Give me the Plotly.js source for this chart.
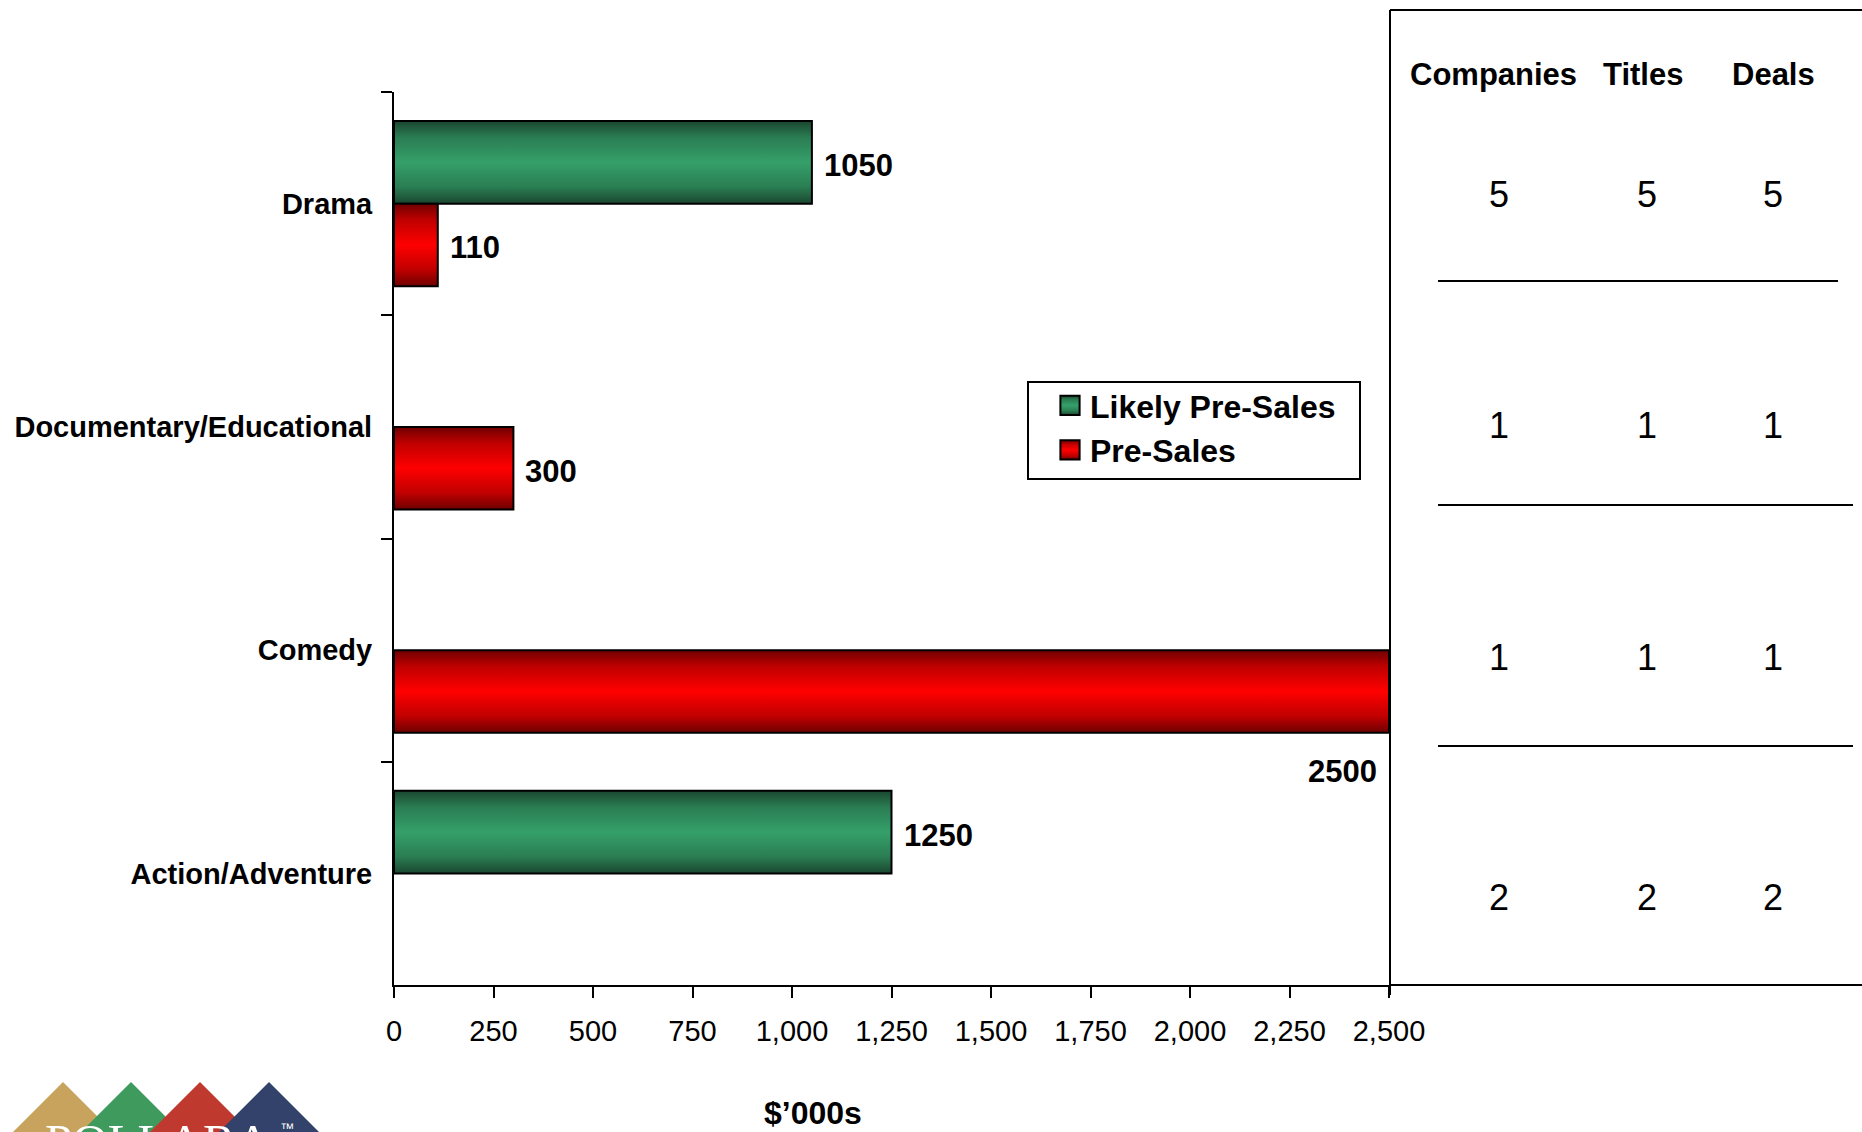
<!DOCTYPE html>
<html>
<head>
<meta charset="utf-8">
<script src="https://cdn.plot.ly/plotly-3.0.1.min.js"></script>
<style>
  html, body { margin: 0; padding: 0; background: #ffffff; }
  #chart { width: 1862px; height: 1132px; }
</style>
</head>
<body>
<div id="chart"></div>
<script>
// ---------------- data ----------------
const categories = ['Drama', 'Documentary/Educational', 'Comedy', 'Action/Adventure'];
const likelyPreSales = [1050, null, null, 1250];
const preSales = [110, 300, 2500, null];
const seriesNames = ['Likely Pre-Sales', 'Pre-Sales'];
const tableHeaders = ['Companies', 'Titles', 'Deals'];
const companies = [5, 1, 1, 2];
const titles = [5, 1, 1, 2];
const deals = [5, 1, 1, 2];
const xAxisTitle = '$\u2019000s';
const xMax = 2500;
const xStep = 250;

// ---------------- layout helpers ----------------
const W = 1862, H = 1132;
const L = 394, R = 1389, T = 92, B = 985;
const px = v => (v - L) / (R - L);
const py = v => (B - v) / (B - T);
const FONT = 'Liberation Sans, Arial, sans-serif';

const traces = [
  {
    type: 'bar', orientation: 'h', name: seriesNames[0],
    y: categories, x: likelyPreSales,
    marker: { color: '#339966', line: { color: '#000000', width: 2 } },
    hoverinfo: 'x+y'
  },
  {
    type: 'bar', orientation: 'h', name: seriesNames[1],
    y: categories, x: preSales,
    marker: { color: '#ff0000', line: { color: '#000000', width: 2 } },
    hoverinfo: 'x+y'
  }
];

const bargap = 0.26;
const slot = (1 - bargap) / 2;
const annotations = [];

// data labels
[likelyPreSales, preSales].forEach((vals, t) => {
  const off = (t === 0 ? -slot / 2 : slot / 2);
  vals.forEach((v, i) => {
    if (v === null) return;
    if (v >= xMax) {
      annotations.push({
        xref: 'x', yref: 'y', x: v, y: i + off + 0.36,
        text: String(v), showarrow: false, xanchor: 'right', yanchor: 'middle',
        xshift: -10, font: { family: FONT, size: 31, weight: 'bold', color: '#000' }
      });
    } else {
      annotations.push({
        xref: 'x', yref: 'y', x: v, y: i + off,
        text: String(v), showarrow: false, xanchor: 'left', yanchor: 'middle',
        xshift: 10, yshift: -3, font: { family: FONT, size: 31, weight: 'bold', color: '#000' }
      });
    }
  });
});

// axis title
annotations.push({
  xref: 'paper', yref: 'paper', x: px(813), y: py(1113),
  text: '<b>' + xAxisTitle + '</b>', showarrow: false, xanchor: 'center', yanchor: 'middle',
  font: { family: FONT, size: 32, color: '#000' }
});

// table
const headerX = [1493, 1643, 1773];
const colX = [1499, 1647, 1773];
const rowY = [194, 425, 657, 897];
tableHeaders.forEach((h, j) => {
  annotations.push({
    xref: 'paper', yref: 'paper', x: px(headerX[j]), y: py(74),
    text: '<b>' + h + '</b>', showarrow: false, xanchor: 'center', yanchor: 'middle',
    font: { family: FONT, size: 31, color: '#000' }
  });
});
[companies, titles, deals].forEach((col, j) => {
  col.forEach((v, i) => {
    annotations.push({
      xref: 'paper', yref: 'paper', x: px(colX[j]), y: py(rowY[i]),
      text: String(v), showarrow: false, xanchor: 'center', yanchor: 'middle',
      font: { family: FONT, size: 36, color: '#000' }
    });
  });
});

// logo text (cut by the page edge, as in the original)
annotations.push({
  xref: 'paper', yref: 'paper', x: px(43), y: py(1141),
  text: 'POLLARA', showarrow: false, xanchor: 'left', yanchor: 'middle',
  font: { family: 'Liberation Serif, serif', size: 49, color: '#ffffff' }
});
annotations.push({
  xref: 'paper', yref: 'paper', x: px(278), y: py(1128),
  text: '\u2122', showarrow: false, xanchor: 'left', yanchor: 'middle',
  font: { family: 'Liberation Sans, sans-serif', size: 14, color: '#ffffff' }
});

const line = (x0, y0, x1, y1) => ({
  type: 'line', xref: 'paper', yref: 'paper',
  x0: px(x0), y0: py(y0), x1: px(x1), y1: py(y1),
  line: { color: '#000000', width: 2 }, layer: 'above'
});
const tri = (cx, color) => ({
  type: 'path', xref: 'paper', yref: 'paper', layer: 'below',
  path: 'M ' + px(cx) + ' ' + py(1082) + ' L ' + px(cx + 56) + ' ' + py(1138) +
        ' L ' + px(cx - 56) + ' ' + py(1138) + ' Z',
  fillcolor: color, line: { width: 0 }
});

const shapes = [
  line(1390, 10, 1390, 995),
  line(1390, 10, 1862, 10),
  line(1389, 985, 1862, 985),
  line(1438, 281, 1838, 281),
  line(1438, 505, 1853, 505),
  line(1438, 746, 1853, 746),
  tri(63, '#c8a35e'),
  tri(131, '#3f9a5e'),
  tri(200, '#c0392e'),
  tri(269, '#33426b'),
  // legend frame
  {
    type: 'rect', xref: 'paper', yref: 'paper',
    x0: px(1028), x1: px(1360), y0: py(382), y1: py(479),
    fillcolor: '#ffffff', line: { color: '#000000', width: 2 }, layer: 'above'
  }
];

const layout = {
  width: W, height: H,
  margin: { l: L, r: W - R, t: T, b: H - B, pad: 0 },
  paper_bgcolor: '#ffffff', plot_bgcolor: '#ffffff',
  font: { family: FONT, color: '#000000' },
  barmode: 'group', bargap: bargap, bargroupgap: 0,
  showlegend: true,
  legend: {
    x: px(1050), y: py(378), xanchor: 'left', yanchor: 'top',
    bgcolor: 'rgba(0,0,0,0)', borderwidth: 0,
    font: { family: FONT, size: 32, weight: 'bold', color: '#000' },
    traceorder: 'normal'
  },
  xaxis: {
    range: [0, xMax], dtick: xStep, tick0: 0, tickformat: ',',
    showgrid: false, zeroline: false, showline: true, linecolor: '#000', linewidth: 2,
    ticks: 'outside', ticklen: 11, tickwidth: 2, tickcolor: '#000',
    ticklabelstandoff: 8,
    tickfont: { family: FONT, size: 29, color: '#000' },
    fixedrange: true
  },
  yaxis: {
    type: 'category', autorange: false, range: [categories.length - 0.5, -0.5],
    showgrid: false, zeroline: false, showline: true, linecolor: '#000', linewidth: 2,
    ticks: 'outside', tickson: 'boundaries', ticklen: 11, tickwidth: 2, tickcolor: '#000',
    ticklabelstandoff: 14,
    tickfont: { family: FONT, size: 29, weight: 'bold', color: '#000' },
    fixedrange: true
  },
  annotations: annotations,
  shapes: shapes
};

const gd = document.getElementById('chart');
Plotly.newPlot(gd, traces, layout, { displayModeBar: false, staticPlot: true }).then(() => {
  const NS = 'http://www.w3.org/2000/svg';
  const svg = gd.querySelector('.main-svg');
  let defs = svg.querySelector('defs');
  if (!defs) { defs = document.createElementNS(NS, 'defs'); svg.insertBefore(defs, svg.firstChild); }
  const mk = (id, dark, mid, bright) => {
    const g = document.createElementNS(NS, 'linearGradient');
    g.setAttribute('id', id);
    g.setAttribute('x1', '0'); g.setAttribute('y1', '0');
    g.setAttribute('x2', '0'); g.setAttribute('y2', '1');
    [[0, dark], [0.2, mid], [0.5, bright], [0.8, mid], [1, dark]].forEach(([o, c]) => {
      const s = document.createElementNS(NS, 'stop');
      s.setAttribute('offset', o);
      s.setAttribute('stop-color', c);
      g.appendChild(s);
    });
    defs.appendChild(g);
  };
  mk('gradGreen', '#1a4630', '#2a7d52', '#35a06a');
  mk('gradRed', '#6e0000', '#c00000', '#ff0000');
  const ids = ['gradGreen', 'gradRed'];
  gd.querySelectorAll('.barlayer .trace').forEach((tr, k) => {
    tr.querySelectorAll('path').forEach(p => { p.style.fill = 'url(#' + ids[k] + ')'; });
  });
  gd.querySelectorAll('.legend .traces').forEach((tr, k) => {
    tr.querySelectorAll('.legendpoints path').forEach(p => {
      p.style.fill = 'url(#' + ids[k] + ')';
      const prev = p.getAttribute('transform') || '';
      p.setAttribute('transform', prev + ' scale(1.6)');
      p.style.vectorEffect = 'non-scaling-stroke';
    });
  });
});
</script>
</body>
</html>
